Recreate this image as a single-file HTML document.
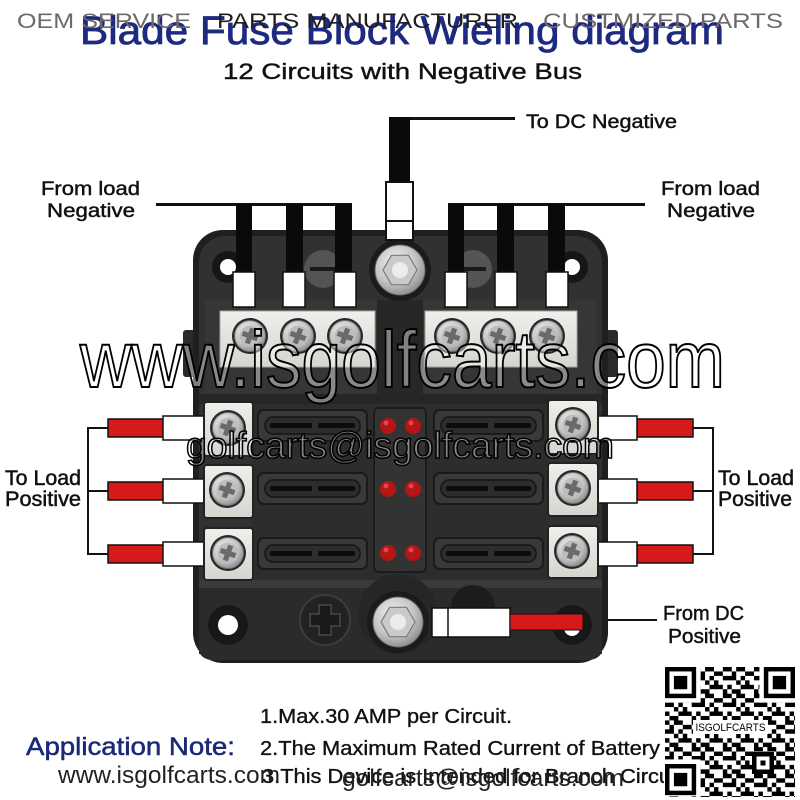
<!DOCTYPE html>
<html><head><meta charset="utf-8"><style>
html,body{margin:0;padding:0;background:#fff;}
svg{display:block;}
text{font-family:"Liberation Sans",sans-serif;}
</style></head><body>
<svg width="800" height="800" viewBox="0 0 800 800" xmlns="http://www.w3.org/2000/svg">
<defs>
<radialGradient id="sil" cx="0.4" cy="0.35" r="0.7">
<stop offset="0" stop-color="#f2f2f2"/><stop offset="0.6" stop-color="#c4c4c4"/><stop offset="1" stop-color="#8a8a8a"/>
</radialGradient>
<linearGradient id="plate" x1="0" y1="0" x2="0" y2="1">
<stop offset="0" stop-color="#f0efeb"/><stop offset="1" stop-color="#d6d4cf"/>
</linearGradient>
<g id="scr">
<circle r="18" fill="#262626"/>
<circle r="15.5" fill="url(#sil)" stroke="#6e6e6e" stroke-width="1"/>
<circle r="10.5" fill="#bdbdbd"/>
<path d="M-2.6,-8 h5.2 v5.4 h5.4 v5.2 h-5.4 v5.4 h-5.2 v-5.4 h-5.4 v-5.2 h5.4z" fill="#6a6a6a" transform="rotate(20)"/>
</g>
<g id="nut">
<circle r="31" fill="#1b1b1b"/>
<circle r="25" fill="url(#sil)" stroke="#666" stroke-width="1"/>
<polygon points="17,0 8.5,14.7 -8.5,14.7 -17,0 -8.5,-14.7 8.5,-14.7" fill="#cacaca" stroke="#7a7a7a" stroke-width="1.2"/>
<circle r="8" fill="#ececec"/>
</g>
<g id="fuse">
<rect x="0" y="0" width="109" height="31" rx="6" fill="#393939" stroke="#1a1a1a" stroke-width="2"/>
<rect x="7" y="7" width="95" height="17" rx="8" fill="#2d2d2d" stroke="#141414" stroke-width="1.5"/>
<rect x="12" y="13" width="42" height="5" rx="2" fill="#0c0c0c"/>
<rect x="60" y="13" width="37" height="5" rx="2" fill="#0c0c0c"/>
</g>
<pattern id="qr" x="665" y="667" width="31.15" height="26.7" patternUnits="userSpaceOnUse">
<rect x="0" y="0" width="4.45" height="4.45" fill="#000"/>
<rect x="8.9" y="0" width="8.9" height="4.45" fill="#000"/>
<rect x="26.7" y="0" width="4.45" height="4.45" fill="#000"/>
<rect x="4.45" y="4.45" width="4.45" height="4.45" fill="#000"/>
<rect x="17.8" y="4.45" width="8.9" height="4.45" fill="#000"/>
<rect x="0" y="8.9" width="8.9" height="4.45" fill="#000"/>
<rect x="13.35" y="8.9" width="4.45" height="4.45" fill="#000"/>
<rect x="26.7" y="8.9" width="4.45" height="4.45" fill="#000"/>
<rect x="8.9" y="13.35" width="4.45" height="4.45" fill="#000"/>
<rect x="17.8" y="13.35" width="4.45" height="4.45" fill="#000"/>
<rect x="0" y="17.8" width="4.45" height="4.45" fill="#000"/>
<rect x="13.35" y="17.8" width="13.35" height="4.45" fill="#000"/>
<rect x="4.45" y="22.25" width="8.9" height="4.45" fill="#000"/>
<rect x="26.7" y="22.25" width="4.45" height="4.45" fill="#000"/>
</pattern>
</defs>

<rect width="800" height="800" fill="#fff"/>

<!-- Title -->
<text x="80" y="44" font-size="40" fill="#1d2a80" stroke="#1d2a80" stroke-width="0.8" textLength="644" lengthAdjust="spacingAndGlyphs">Blade Fuse Block Wieling diagram</text>
<text x="17" y="28" font-size="21" fill="#6e6868" textLength="174" lengthAdjust="spacingAndGlyphs">OEM SERVICE</text>
<text x="217" y="28" font-size="21" fill="#1e1e1e" textLength="301" lengthAdjust="spacingAndGlyphs">PARTS MANUFACTURER</text>
<text x="543" y="28" font-size="21" fill="#6e6868" textLength="240" lengthAdjust="spacingAndGlyphs">CUSTMIZED PARTS</text>
<text x="223" y="79" font-size="22" fill="#111" stroke="#111" stroke-width="0.4" textLength="359" lengthAdjust="spacingAndGlyphs">12 Circuits with Negative Bus</text>

<g stroke="#111" stroke-width="0.45" fill="#111">
<!-- DC negative -->
<text x="526" y="128" font-size="19" textLength="151" lengthAdjust="spacingAndGlyphs">To DC Negative</text>
<!-- From load Negative labels -->
<text x="41" y="195" font-size="19" textLength="99" lengthAdjust="spacingAndGlyphs">From load</text>
<text x="47" y="217" font-size="19" textLength="88" lengthAdjust="spacingAndGlyphs">Negative</text>
<text x="661" y="195" font-size="19" textLength="99" lengthAdjust="spacingAndGlyphs">From load</text>
<text x="667" y="217" font-size="19" textLength="88" lengthAdjust="spacingAndGlyphs">Negative</text>
</g>
<rect x="389" y="117" width="126" height="3" fill="#111"/>
<rect x="156" y="203" width="196" height="3" fill="#111"/>
<rect x="448" y="203" width="197" height="3" fill="#111"/>

<!-- Block body -->
<rect x="183" y="330" width="16" height="47" rx="3" fill="#2a2a2a"/>
<rect x="602" y="330" width="16" height="47" rx="3" fill="#2a2a2a"/>
<rect x="193" y="230" width="415" height="433" rx="30" fill="#1f1f1f"/>
<rect x="199" y="236" width="403" height="421" rx="26" fill="#313131"/>
<rect x="205" y="300" width="391" height="95" fill="#363636"/>
<rect x="377" y="300" width="46" height="100" fill="#272727"/>
<rect x="199" y="394" width="403" height="10" fill="#262626"/>
<rect x="252" y="404" width="297" height="176" fill="#2d2d2d"/>
<rect x="199" y="580" width="403" height="8" fill="#3a3a3a"/>
<rect x="199" y="588" width="403" height="66" fill="#2b2b2b"/>
<rect x="199" y="640" width="403" height="20" rx="14" fill="#2b2b2b"/>

<!-- top holes and gray circles -->
<circle cx="228" cy="267" r="16" fill="#161616"/>
<circle cx="228" cy="267" r="8" fill="#fff"/>
<circle cx="572" cy="267" r="16" fill="#161616"/>
<circle cx="572" cy="267" r="8" fill="#fff"/>
<circle cx="323" cy="269" r="19" fill="#545454"/>
<rect x="310" y="267" width="26" height="4" fill="#1a1a1a"/>
<circle cx="473" cy="269" r="19" fill="#545454"/>
<rect x="460" y="267" width="26" height="4" fill="#1a1a1a"/>

<use href="#nut" x="400" y="270"/>

<!-- negative wires -->
<rect x="236" y="204" width="16" height="70" fill="#0a0a0a"/>
<rect x="286" y="204" width="17" height="70" fill="#0a0a0a"/>
<rect x="335" y="204" width="17" height="70" fill="#0a0a0a"/>
<rect x="448" y="204" width="16" height="70" fill="#0a0a0a"/>
<rect x="497" y="204" width="17" height="70" fill="#0a0a0a"/>
<rect x="548" y="204" width="17" height="70" fill="#0a0a0a"/>
<!-- negative terminals -->
<g fill="#fff" stroke="#111" stroke-width="1.5">
<rect x="233" y="272" width="22" height="35"/>
<rect x="283" y="272" width="22" height="35"/>
<rect x="334" y="272" width="22" height="35"/>
<rect x="445" y="272" width="22" height="35"/>
<rect x="495" y="272" width="22" height="35"/>
<rect x="546" y="272" width="22" height="35"/>
</g>
<!-- DC negative wire -->
<rect x="389" y="117" width="21" height="66" fill="#0a0a0a"/>
<rect x="386" y="182" width="27" height="58" fill="#fff" stroke="#111" stroke-width="2"/>
<line x1="386" y1="221" x2="413" y2="221" stroke="#111" stroke-width="2"/>

<!-- bus bars -->
<rect x="220" y="311" width="155" height="56" fill="url(#plate)" stroke="#a8a6a2" stroke-width="1"/>
<rect x="425" y="311" width="152" height="56" fill="url(#plate)" stroke="#a8a6a2" stroke-width="1"/>
<use href="#scr" x="250" y="336"/>
<use href="#scr" x="298" y="336"/>
<use href="#scr" x="345" y="336"/>
<use href="#scr" x="452" y="336"/>
<use href="#scr" x="498" y="336"/>
<use href="#scr" x="547" y="336"/>

<!-- fuses -->
<use href="#fuse" x="258" y="410"/>
<use href="#fuse" x="258" y="473"/>
<use href="#fuse" x="258" y="538"/>
<use href="#fuse" x="434" y="410"/>
<use href="#fuse" x="434" y="473"/>
<use href="#fuse" x="434" y="538"/>
<!-- LED strip -->
<rect x="374" y="408" width="52" height="164" rx="5" fill="#333" stroke="#1b1b1b" stroke-width="2"/>
<g fill="#b51515">
<circle cx="388" cy="426" r="8"/><circle cx="413" cy="426" r="8"/>
<circle cx="388" cy="489" r="8"/><circle cx="413" cy="489" r="8"/>
<circle cx="388" cy="553" r="8"/><circle cx="413" cy="553" r="8"/>
</g>
<g fill="#e04a4a">
<circle cx="386" cy="423" r="2.5"/><circle cx="411" cy="423" r="2.5"/>
<circle cx="386" cy="486" r="2.5"/><circle cx="411" cy="486" r="2.5"/>
<circle cx="386" cy="550" r="2.5"/><circle cx="411" cy="550" r="2.5"/>
</g>

<!-- positive wires -->
<g stroke="#111" stroke-width="1.5">
<rect x="108" y="419" width="56" height="18" fill="#d61a1a"/>
<rect x="108" y="482" width="56" height="18" fill="#d61a1a"/>
<rect x="108" y="545" width="56" height="18" fill="#d61a1a"/>
<rect x="163" y="416" width="42" height="24" fill="#fff"/>
<rect x="163" y="479" width="42" height="24" fill="#fff"/>
<rect x="163" y="542" width="42" height="24" fill="#fff"/>
<rect x="637" y="419" width="56" height="18" fill="#d61a1a"/>
<rect x="637" y="482" width="56" height="18" fill="#d61a1a"/>
<rect x="637" y="545" width="56" height="18" fill="#d61a1a"/>
<rect x="596" y="416" width="41" height="24" fill="#fff"/>
<rect x="596" y="479" width="41" height="24" fill="#fff"/>
<rect x="596" y="542" width="41" height="24" fill="#fff"/>
</g>
<!-- positive plates -->
<g fill="url(#plate)" stroke="#222" stroke-width="2">
<rect x="204" y="402" width="49" height="54" rx="3"/>
<rect x="204" y="465" width="49" height="53" rx="3"/>
<rect x="204" y="528" width="49" height="52" rx="3"/>
<rect x="548" y="400" width="50" height="54" rx="3"/>
<rect x="548" y="463" width="50" height="53" rx="3"/>
<rect x="548" y="526" width="50" height="52" rx="3"/>
</g>
<use href="#scr" x="228" y="428"/>
<use href="#scr" x="227" y="490"/>
<use href="#scr" x="228" y="553"/>
<use href="#scr" x="573" y="425"/>
<use href="#scr" x="573" y="488"/>
<use href="#scr" x="572" y="551"/>

<!-- brackets -->
<g stroke="#111" stroke-width="2" fill="none">
<path d="M108,428 H88 V554 H108 M88,491 H108"/>
<path d="M693,428 H713 V554 H693 M713,491 H693"/>
<path d="M608,620 H657"/>
</g>
<g stroke="#111" stroke-width="0.5" fill="#111">
<text x="5" y="485" font-size="21" textLength="76" lengthAdjust="spacingAndGlyphs">To Load</text>
<text x="5" y="506" font-size="21" textLength="76" lengthAdjust="spacingAndGlyphs">Positive</text>
<text x="718" y="485" font-size="21" textLength="76" lengthAdjust="spacingAndGlyphs">To Load</text>
<text x="718" y="506" font-size="21" textLength="74" lengthAdjust="spacingAndGlyphs">Positive</text>
</g>

<!-- bottom part -->
<circle cx="398" cy="614" r="40" fill="#262626"/>
<circle cx="228" cy="625" r="20" fill="#181818"/>
<circle cx="228" cy="625" r="10" fill="#fff"/>
<circle cx="572" cy="625" r="20" fill="#181818"/>
<circle cx="572" cy="628" r="8" fill="#fff"/>
<circle cx="325" cy="620" r="25" fill="#222" stroke="#3c3c3c" stroke-width="2"/>
<path d="M319,605 h12 v9 h9 v12 h-9 v9 h-12 v-9 h-9 v-12 h9z" fill="#1a1a1a" stroke="#484848" stroke-width="1.5"/>
<circle cx="473" cy="607" r="22" fill="#1c1c1c"/>
<use href="#nut" x="398" y="622"/>
<rect x="432" y="608" width="78" height="29" fill="#fff" stroke="#111" stroke-width="1.5"/>
<line x1="448" y1="608" x2="448" y2="637" stroke="#111" stroke-width="1.5"/>
<rect x="510" y="614" width="73" height="16" fill="#d61a1a" stroke="#111" stroke-width="1"/>
<g stroke="#111" stroke-width="0.45" fill="#111">
<text x="663" y="620" font-size="20" textLength="81" lengthAdjust="spacingAndGlyphs">From DC</text>
<text x="668" y="643" font-size="20" textLength="73" lengthAdjust="spacingAndGlyphs">Positive</text>
</g>

<!-- watermarks -->
<text x="80" y="387" font-size="80" fill="#fff" fill-opacity="0.42" stroke="#000" stroke-width="2" textLength="645" lengthAdjust="spacingAndGlyphs">www.isgolfcarts.com</text>
<text x="186" y="458" font-size="37" fill="#fff" fill-opacity="0.42" stroke="#000" stroke-width="1.5" textLength="428" lengthAdjust="spacingAndGlyphs">golfcarts@isgolfcarts.com</text>

<!-- application notes -->
<g stroke="#111" stroke-width="0.35" fill="#111">
<text x="260" y="723" font-size="20" textLength="252" lengthAdjust="spacingAndGlyphs">1.Max.30 AMP per Circuit.</text>
<text x="260" y="755" font-size="20" textLength="400" lengthAdjust="spacingAndGlyphs">2.The Maximum Rated Current of Battery</text>
<text x="262" y="783" font-size="20" textLength="420" lengthAdjust="spacingAndGlyphs">3.This Device is Intended for Branch Circuit</text>
</g>
<text x="26" y="755" font-size="25" fill="#1b2a78" stroke="#1b2a78" stroke-width="0.5" textLength="209" lengthAdjust="spacingAndGlyphs">Application Note:</text>
<text x="58" y="783" font-size="24" fill="#222" textLength="222" lengthAdjust="spacingAndGlyphs">www.isgolfcarts.com</text>
<text x="342" y="786" font-size="24" fill="#222" textLength="282" lengthAdjust="spacingAndGlyphs">golfcarts@isgolfcarts.com</text>

<!-- QR -->
<rect x="664" y="664" width="136" height="136" fill="#fff"/>
<rect x="665" y="667" width="130" height="130" fill="url(#qr)"/>
<rect x="665" y="667" width="35.6" height="35.6" fill="#fff"/>
<rect x="665" y="667" width="31.15" height="31.15" fill="#000"/>
<rect x="669.45" y="671.45" width="22.25" height="22.25" fill="#fff"/>
<rect x="673.9" y="675.9" width="13.35" height="13.35" fill="#000"/>
<rect x="759.4" y="667" width="35.6" height="35.6" fill="#fff"/>
<rect x="763.85" y="667" width="31.15" height="31.15" fill="#000"/>
<rect x="768.3" y="671.45" width="22.25" height="22.25" fill="#fff"/>
<rect x="772.75" y="675.9" width="13.35" height="13.35" fill="#000"/>
<rect x="665" y="759.4" width="35.6" height="37" fill="#fff"/>
<rect x="665" y="764" width="31.15" height="31.15" fill="#000"/>
<rect x="669.45" y="768.45" width="22.25" height="22.25" fill="#fff"/>
<rect x="673.9" y="772.9" width="13.35" height="13.35" fill="#000"/>
<rect x="752" y="752" width="22" height="22" fill="#000"/>
<rect x="756.5" y="756.5" width="13" height="13" fill="#fff"/>
<rect x="760.5" y="760.5" width="5" height="5" fill="#000"/>
<rect x="693" y="720" width="75" height="14" fill="#fff"/>
<text x="730.5" y="731" font-size="11" font-family="Liberation Serif, serif" fill="#000" text-anchor="middle" textLength="70" lengthAdjust="spacingAndGlyphs">ISGOLFCARTS</text>
</svg>
</body></html>
